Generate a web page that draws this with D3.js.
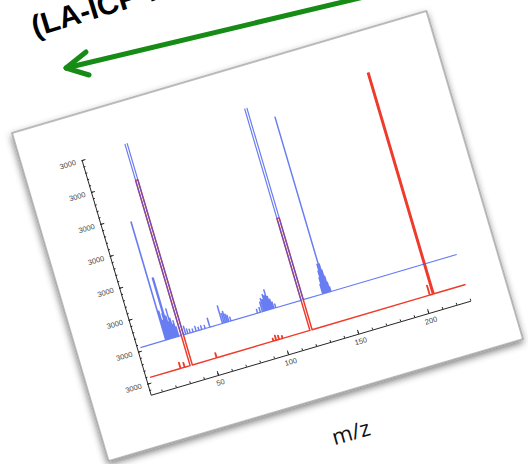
<!DOCTYPE html>
<html>
<head>
<meta charset="utf-8">
<script src="https://cdn.jsdelivr.net/npm/d3@7/dist/d3.min.js"></script>
<style>
  html, body { margin: 0; padding: 0; background: #ffffff; }
  svg { display: block; }
</style>
</head>
<body>
<div id="chart"></div>
<script>
// ---- data ----
const mzDomain = [2, 230];
const mzTicks = [50, 100, 150, 200];
const mzMinorTicks = d3.range(10, 231, 10);
const intensityDomain = [-0.35, 7];
const intensityTicks = [0, 1, 2, 3, 4, 5, 6, 7];
const intensityTickLabels = ["3000", "3000", "3000", "3000", "3000", "3000", "3000", "3000"];
const intensityMinorTicks = d3.range(-0.2, 7.01, 0.2);
const plotTop = 7.1;

// baseline offsets of the two stacked spectra
const redOffset = 0.16;
const blueOffset = 1.10;
const redRange = [5, 230];
const blueRange = [4.5, 230];

// peaks: [m/z, height, peak width in m/z]
const redPeaks = [
  [26.8, 0.18, 0.12], [29.7, 0.14, 0.12], [34.4, 5.8, 0.8], [52.5, 0.15, 0.12],
  [93, 0.08, 0.12], [95, 0.15, 0.12], [97, 0.12, 0.12], [99.5, 0.08, 0.12],
  [119.8, 3.5, 0.8], [204.5, 0.3, 0.12], [207, 12, 0.5]
];
const bluePeaks = [
  [22.6, 3.7, 0.15], [23.5, 0.9, 0.1], [24.3, 0.6, 0.1], [25.2, 0.8, 0.1],
  [26.0, 1.9, 0.4], [27.2, 0.7, 0.1], [27.9, 0.5, 0.1], [28.6, 0.9, 0.1],
  [29.4, 0.6, 0.1], [30.3, 0.4, 0.1], [31.0, 0.5, 0.1], [31.8, 0.3, 0.1],
  [34.4, 12, 0.8],
  [36.8, 0.25, 0.1], [38.3, 0.15, 0.1], [40, 0.12, 0.1], [42, 0.1, 0.1],
  [44.2, 0.15, 0.1], [46.2, 0.1, 0.1], [48.2, 0.12, 0.1], [50.6, 0.1, 0.1],
  [54, 0.28, 0.12], [63, 0.55, 0.12], [64.2, 0.3, 0.1], [65.3, 0.35, 0.1],
  [66.4, 0.25, 0.1], [67.5, 0.2, 0.1], [69, 0.12, 0.1],
  [88, 0.12, 0.1], [90, 0.15, 0.1], [91.5, 0.3, 0.1], [92.6, 0.4, 0.1],
  [93.6, 0.35, 0.1], [94.6, 0.5, 0.1], [95.6, 0.45, 0.1], [96.6, 0.62, 0.1],
  [97.6, 0.4, 0.1], [98.6, 0.3, 0.1], [99.6, 0.2, 0.1], [101, 0.12, 0.1],
  [119.8, 12, 0.8],
  [134.5, 0.3, 0.1], [135.2, 0.5, 0.1], [135.8, 0.7, 0.1], [136.4, 0.9, 0.1],
  [137.3, 5.5, 0.1], [137.9, 0.9, 0.1], [138.5, 0.7, 0.1], [139.1, 0.5, 0.1],
  [139.7, 0.3, 0.1], [140.3, 0.15, 0.1]
];

// ---- layout ----
const W = 528, H = 464;
const svg = d3.select("#chart").append("svg").attr("width", W).attr("height", H);
const defs = svg.append("defs");

const shadow = defs.append("filter").attr("id", "cardShadow")
  .attr("x", "-8%").attr("y", "-8%").attr("width", "116%").attr("height", "120%");
shadow.append("feDropShadow").attr("dx", -1).attr("dy", 3).attr("stdDeviation", 3.5)
  .attr("flood-color", "#000").attr("flood-opacity", 0.5);

// heading running off the top edge
svg.append("text")
  .attr("transform", "translate(35,37) rotate(-17)")
  .attr("font-family", "'Liberation Sans', Arial, sans-serif")
  .attr("font-weight", "bold")
  .attr("font-size", 30)
  .attr("fill", "#000")
  .text("(LA-ICP-MS)");

// green arrow
const arrow = svg.append("g").attr("stroke", "#168c16").attr("stroke-width", 5)
  .attr("stroke-linecap", "round").attr("stroke-linejoin", "round").attr("fill", "none");
arrow.append("line").attr("x1", 410).attr("y1", -14).attr("x2", 66).attr("y2", 68);
arrow.append("path").attr("d", "M86,52 L66,68 L89,75");

// tilted card holding the spectrum
const card = svg.append("g").attr("transform", "translate(12,133) rotate(-16.4)");
card.append("rect").attr("x", 0).attr("y", 0).attr("width", 432).attr("height", 342)
  .attr("fill", "#fff").attr("stroke", "#999").attr("stroke-width", 1.3)
  .attr("filter", "url(#cardShadow)");

const x = d3.scaleLinear().domain(mzDomain).range([59, 392.3]);
const y = d3.scaleLinear().domain(intensityDomain).range([290.4, 45.7]);

defs.append("clipPath").attr("id", "plotClip").append("rect")
  .attr("x", x(mzDomain[0])).attr("y", y(plotTop))
  .attr("width", x(mzDomain[1] + 3) - x(mzDomain[0]))
  .attr("height", y(intensityDomain[0]) - y(plotTop));

const tickFont = "'Liberation Sans', Arial, sans-serif";

// y axis
card.append("g").attr("transform", `translate(${x(mzDomain[0])},0)`)
  .call(d3.axisLeft(y).tickValues(intensityTicks)
    .tickFormat((d, i) => intensityTickLabels[i])
    .tickSizeInner(-4).tickSizeOuter(0).tickPadding(6));
card.append("g").attr("transform", `translate(${x(mzDomain[0])},0)`)
  .call(d3.axisLeft(y).tickValues(intensityMinorTicks).tickFormat("")
    .tickSizeInner(-2).tickSizeOuter(0))
  .call(g => g.select(".domain").remove());

// x axis
card.append("g").attr("transform", `translate(0,${y(intensityDomain[0])})`)
  .call(d3.axisBottom(x).tickValues(mzTicks).tickSizeInner(-4).tickSizeOuter(0).tickPadding(5));
card.append("g").attr("transform", `translate(0,${y(intensityDomain[0])})`)
  .call(d3.axisBottom(x).tickValues(mzMinorTicks).tickFormat("").tickSizeInner(-2).tickSizeOuter(0))
  .call(g => g.select(".domain").remove());

card.selectAll(".domain, .tick line").attr("stroke", "#222").attr("stroke-width", 0.9);
card.selectAll(".tick text").attr("font-family", tickFont).attr("font-size", 7.5).attr("fill", "#444");

// spectra
function profile(peaks, offset, range) {
  const pts = [[range[0], 0]];
  peaks.slice().sort((a, b) => a[0] - b[0]).forEach(([m, h, w]) => {
    pts.push([m - w, 0], [m - w, h], [m + w, h], [m + w, 0]);
  });
  pts.push([range[1], 0]);
  return pts.map(([m, v]) => [m, v + offset]);
}
const line = d3.line().x(d => x(d[0])).y(d => y(d[1]));

const plot = card.append("g").attr("clip-path", "url(#plotClip)");
plot.append("path").datum(profile(redPeaks, redOffset, redRange))
  .attr("d", line).attr("fill", "none").attr("stroke", "#ef3b2c")
  .attr("stroke-width", 1.5).attr("stroke-linejoin", "round");
plot.append("path").datum(profile(bluePeaks, blueOffset, blueRange))
  .attr("d", line).attr("fill", "none").attr("stroke", "#3f58ee")
  .attr("stroke-width", 1.2).attr("stroke-opacity", 0.78).attr("stroke-linejoin", "round");

// axis title below the card
svg.append("text")
  .attr("transform", "translate(353,440) rotate(-16)")
  .attr("text-anchor", "middle")
  .attr("font-family", "'Open Sans', sans-serif")
  .attr("font-size", 22)
  .attr("fill", "#111")
  .text("m/z");
</script>
</body>
</html>
